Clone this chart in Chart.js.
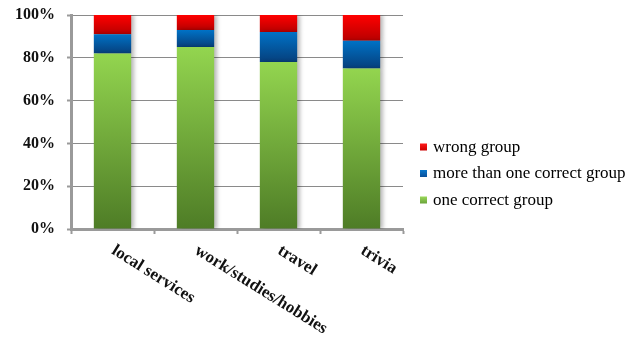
<!DOCTYPE html>
<html>
<head>
<meta charset="utf-8">
<script src="https://cdn.jsdelivr.net/npm/chart.js@4/dist/chart.umd.min.js"></script>
<style>
  html, body { margin: 0; padding: 0; background: #fff; }
  #wrap { width: 642px; height: 337px; }
</style>
</head>
<body>
<div id="wrap"><canvas id="c" width="642" height="337"></canvas></div>
<script>
// Share of answers per topic (percent of all answers)
const categories = ['local services', 'work/studies/hobbies', 'travel', 'trivia'];
const oneCorrect = [82, 85, 78, 75];
const moreThanOne = [9, 8, 14, 13];
const wrongGroup = [9, 7, 8, 12];
const yTicks = [0, 20, 40, 60, 80, 100];

const SERIF = '"Liberation Serif", "Times New Roman", serif';

// top colour / bottom colour of each segment's vertical gradient
const shades = {
  green: ['#93d54f', '#4e7c26'],
  blue: ['#0072c6', '#063f7c'],
  red: ['#ff0000', '#b80000']
};

function segmentFill(pair) {
  return function (ctx) {
    if (ctx.type !== 'data') return pair[0];
    const chart = ctx.chart;
    const y = chart.scales && chart.scales.y;
    if (!chart.chartArea || !y) return pair[0];
    const i = ctx.dataIndex;
    let base = 0;
    for (let d = 0; d < ctx.datasetIndex; d++) base += chart.data.datasets[d].data[i];
    const top = base + chart.data.datasets[ctx.datasetIndex].data[i];
    const yTop = y.getPixelForValue(top);
    const yBot = y.getPixelForValue(base);
    if (!isFinite(yTop) || !isFinite(yBot) || yTop === yBot) return pair[0];
    const g = chart.ctx.createLinearGradient(0, yTop, 0, yBot);
    g.addColorStop(0, pair[0]);
    g.addColorStop(1, pair[1]);
    return g;
  };
}

// soft shadow to the right of the bars
const barShadow = {
  id: 'barShadow',
  beforeDatasetsDraw(chart) {
    const c = chart.ctx;
    c.save();
    c.shadowColor = 'rgba(0,0,0,0.28)';
    c.shadowBlur = 4;
    c.shadowOffsetX = 3;
    c.shadowOffsetY = 0;
  },
  afterDatasetsDraw(chart) {
    chart.ctx.restore();
  }
};

// slanted category labels, starting at each category centre
const slantedLabels = {
  id: 'slantedLabels',
  afterDraw(chart) {
    const c = chart.ctx;
    const x = chart.scales.x;
    c.save();
    c.font = 'bold 17px ' + SERIF;
    c.fillStyle = '#111';
    c.textAlign = 'left';
    c.textBaseline = 'top';
    chart.data.labels.forEach((lab, i) => {
      const px = x.getPixelForTick(i);
      c.save();
      c.translate(px + 5, chart.chartArea.bottom + 13);
      c.rotate(32 * Math.PI / 180);
      c.fillText(lab, 0, 0);
      c.restore();
    });
    c.restore();
  }
};

// legend on the right, top item = last stacked series
const sideLegend = {
  id: 'sideLegend',
  afterDraw(chart) {
    const c = chart.ctx;
    const sets = chart.data.datasets.slice().reverse();
    const x0 = 420, yStart = 147, step = 26.5;
    c.save();
    c.font = '17px ' + SERIF;
    c.textAlign = 'left';
    c.textBaseline = 'middle';
    sets.forEach((ds, k) => {
      const yy = yStart + k * step;
      const g = c.createLinearGradient(0, yy - 3.5, 0, yy + 3.5);
      g.addColorStop(0, ds.legendColors[0]);
      g.addColorStop(1, ds.legendColors[1]);
      c.fillStyle = g;
      c.fillRect(x0, yy - 3.5, 7, 7);
      c.fillStyle = '#000';
      c.fillText(ds.label, x0 + 13, yy + 0.5);
    });
    c.restore();
  }
};

new Chart(document.getElementById('c'), {
  type: 'bar',
  data: {
    labels: categories,
    datasets: [
      { label: 'one correct group', data: oneCorrect, backgroundColor: segmentFill(shades.green), legendColors: ['#9ad85a', '#6aa33a'] },
      { label: 'more than one correct group', data: moreThanOne, backgroundColor: segmentFill(shades.blue), legendColors: ['#0a78cc', '#0a4f99'] },
      { label: 'wrong group', data: wrongGroup, backgroundColor: segmentFill(shades.red), legendColors: ['#ff1a1a', '#cc0000'] }
    ]
  },
  options: {
    responsive: false,
    animation: false,
    events: [],
    layout: { padding: { top: 15, right: 239, left: 0, bottom: 0 } },
    datasets: { bar: { categoryPercentage: 1, barPercentage: 0.45, borderWidth: 0 } },
    plugins: {
      legend: { display: false },
      tooltip: { enabled: false },
      title: { display: false }
    },
    scales: {
      x: {
        stacked: true,
        offset: true,
        afterFit(scale) { scale.height = 108; },
        ticks: { display: false },
        grid: {
          display: true,
          drawOnChartArea: false,
          drawTicks: true,
          tickLength: 5,
          tickWidth: 2,
          tickColor: '#9a9a9a',
          offset: true
        },
        border: { display: true, color: '#9a9a9a', width: 3 }
      },
      y: {
        stacked: true,
        min: 0,
        max: 100,
        afterFit(scale) {
          scale.width = 71;
          scale.paddingTop = 0;
          scale.paddingBottom = 0;
        },
        afterBuildTicks(scale) { scale.ticks = yTicks.map(v => ({ value: v })); },
        ticks: {
          padding: 12,
          color: '#111',
          font: { family: SERIF, size: 16, weight: 'bold' },
          callback: v => v + '%'
        },
        grid: {
          color: '#8a8a8a',
          lineWidth: 1,
          tickLength: 4,
          tickColor: '#9a9a9a',
          tickWidth: 2
        },
        border: { display: true, color: '#9a9a9a', width: 3 }
      }
    }
  },
  plugins: [barShadow, slantedLabels, sideLegend]
});
</script>
</body>
</html>
